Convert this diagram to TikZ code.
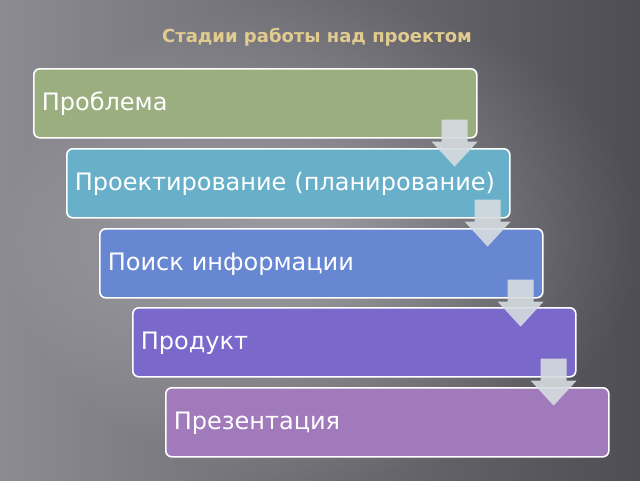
\documentclass[tikz,border=0pt]{standalone}
\usepackage{fontspec}
\setmainfont{DejaVu Sans}
\usetikzlibrary{positioning}
\definecolor{bgLight}{HTML}{B4B4BA}
\definecolor{bgDark}{HTML}{4E4E54}
\definecolor{titleGold}{HTML}{E2CB8E}
\definecolor{stepOne}{HTML}{9BAE80}
\definecolor{stepTwo}{HTML}{68B0CA}
\definecolor{stepThree}{HTML}{6787D2}
\definecolor{stepFour}{HTML}{7A69CA}
\definecolor{stepFive}{HTML}{A07ABB}
\definecolor{arrowFill}{HTML}{D6DCE0}
\tikzset{
  stage_box/.style={draw=white, line width=1.6pt, rounded corners=6pt, minimum width=443pt, minimum height=69pt, inner xsep=8pt, text=white, font=\fontsize{24}{28}\selectfont, text width=427pt, align=left, text depth=4pt},
  stage_arrow/.style={fill=arrowFill, fill opacity=0.9}
}
\begin{document}
\begin{tikzpicture}[x=1pt, y=-1pt]
\useasboundingbox (0,0) rectangle (640,480);
\shade[left color=bgLight, right color=bgDark] (0,0) rectangle (640,480);
\shade[inner color=bgLight!80!white, outer color=bgDark, opacity=0.4] (0,0) rectangle (640,480);

\node[font=\bfseries\fontsize{18}{21}\selectfont, text=titleGold] (title) at (317,37) {Стадии работы над проектом};

\node[stage_box, fill=stepOne, anchor=north west] (b1) at (33,68) {Проблема};
\node[stage_box, fill=stepTwo, anchor=north west] (b2) at (66,148) {Проектирование (планирование)};
\node[stage_box, fill=stepThree, anchor=north west] (b3) at (99,228) {Поиск информации};
\node[stage_box, fill=stepFour, anchor=north west] (b4) at (132,307) {Продукт};
\node[stage_box, fill=stepFive, anchor=north west] (b5) at (165,387) {Презентация};

% arrows between stages
\foreach \a in {b1, b2, b3, b4}{
  \fill[stage_arrow] ([shift={(-36,-19)}]\a.south east) -- ([shift={(-10,-19)}]\a.south east)
    -- ([shift={(-10,3)}]\a.south east) -- ([shift={(0,3)}]\a.south east)
    -- ([shift={(-23,28)}]\a.south east) -- ([shift={(-46,3)}]\a.south east)
    -- ([shift={(-36,3)}]\a.south east) -- cycle;
}
\end{tikzpicture}
\end{document}
